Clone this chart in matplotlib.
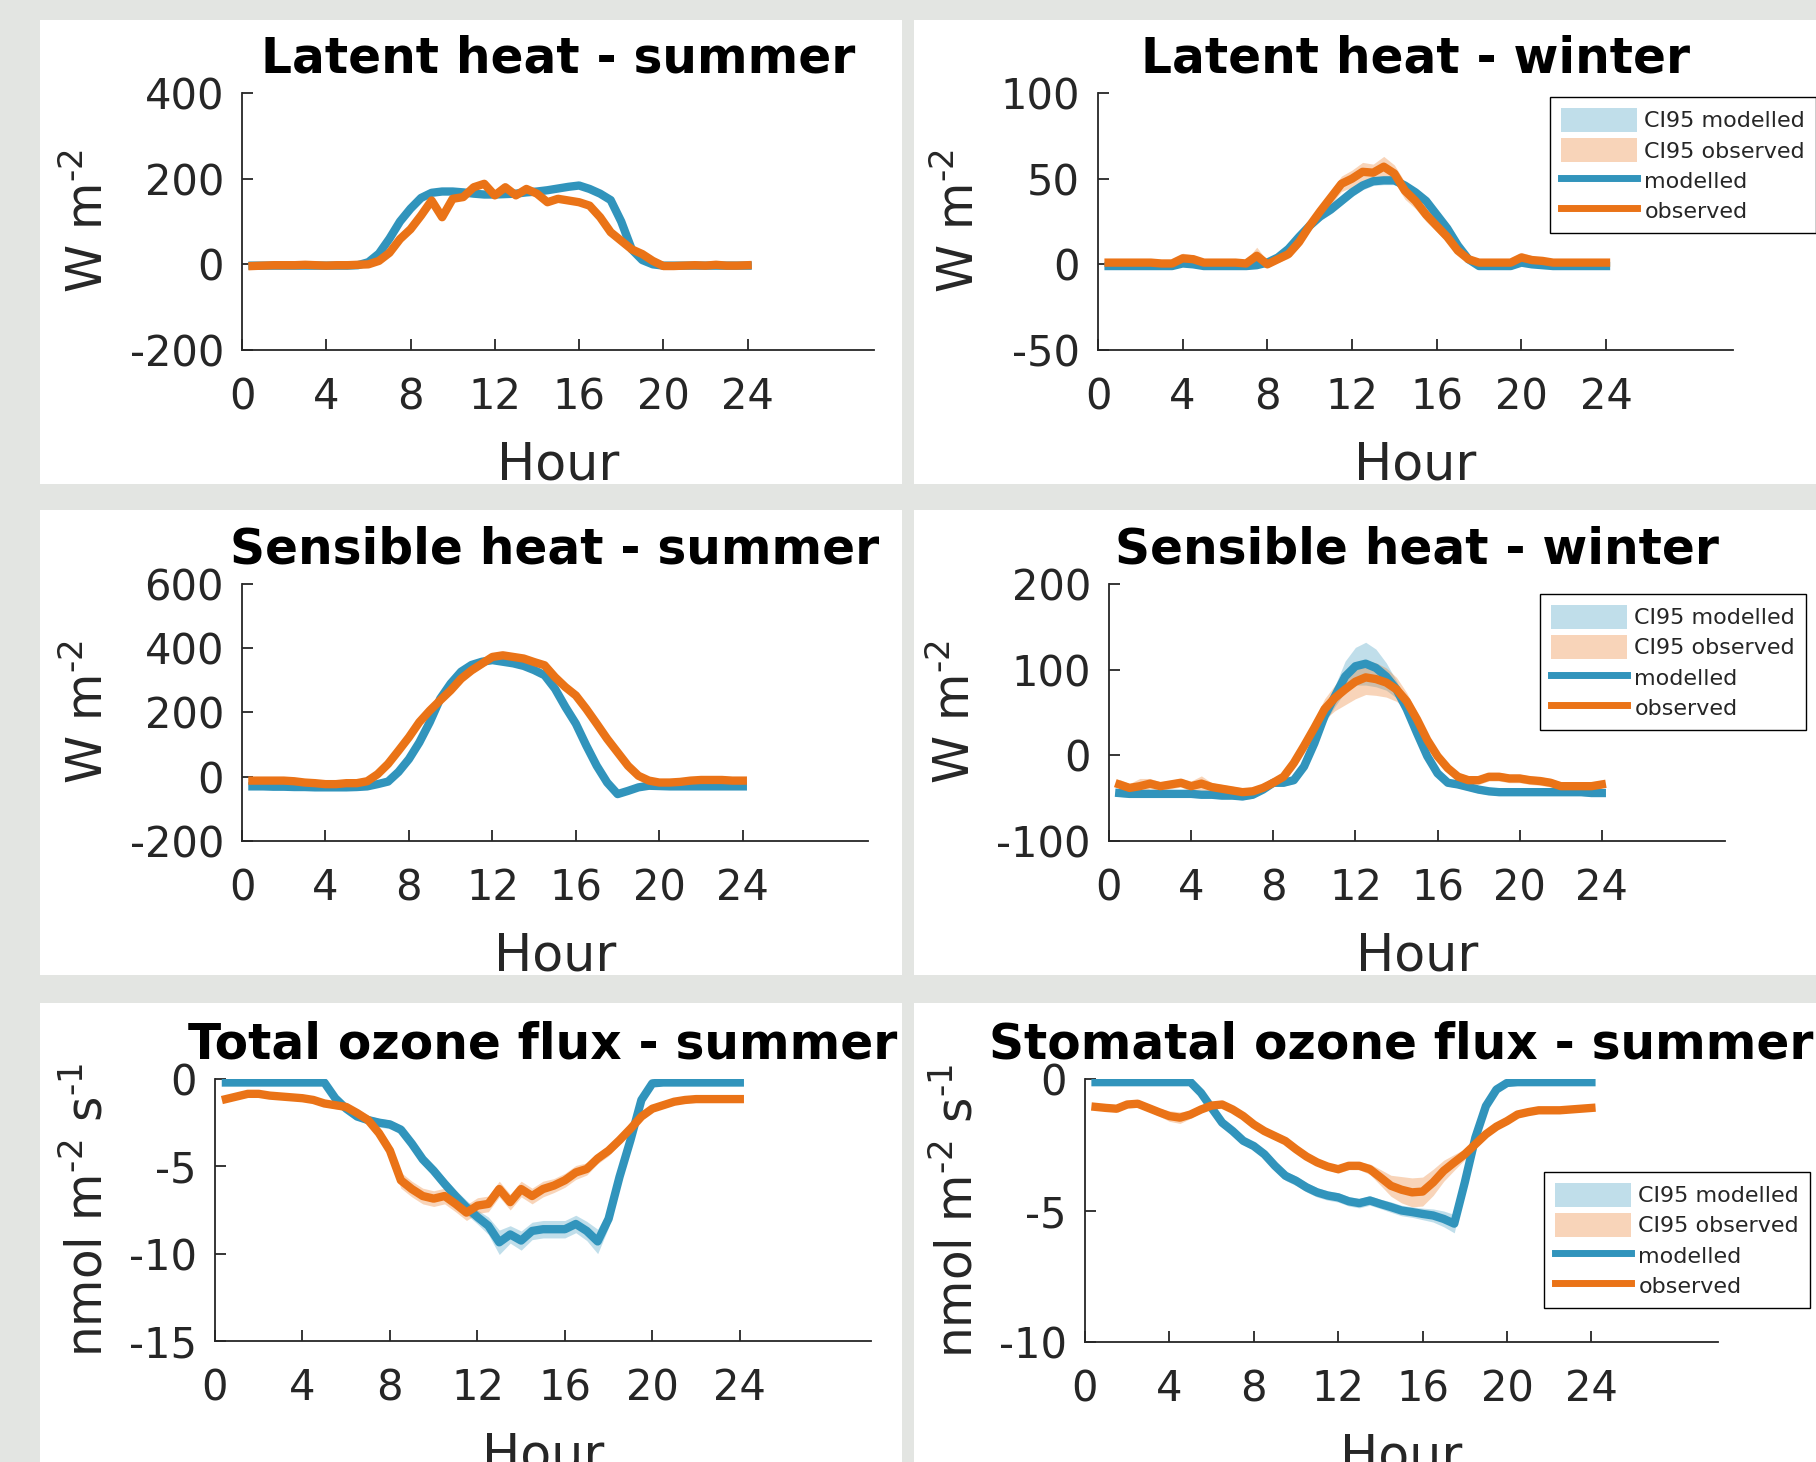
import numpy as np
import matplotlib
matplotlib.use("Agg")
import matplotlib.pyplot as plt
from matplotlib.patches import Rectangle, Patch
from matplotlib.lines import Line2D

plt.rcParams['font.family'] = ['DejaVu Sans']
plt.rcParams['axes.unicode_minus'] = False

hours = [0.5, 1.0, 1.5, 2.0, 2.5, 3.0, 3.5, 4.0, 4.5, 5.0, 5.5, 6.0,
         6.5, 7.0, 7.5, 8.0, 8.5, 9.0, 9.5, 10.0, 10.5, 11.0, 11.5, 12.0,
         12.5, 13.0, 13.5, 14.0, 14.5, 15.0, 15.5, 16.0, 16.5, 17.0, 17.5, 18.0,
         18.5, 19.0, 19.5, 20.0, 20.5, 21.0, 21.5, 22.0, 22.5, 23.0, 23.5, 24.0]
x_ticks = [0, 4, 8, 12, 16, 20, 24]

titles = ["Latent heat - summer", "Latent heat - winter",
          "Sensible heat - summer", "Sensible heat - winter",
          "Total ozone flux - summer", "Stomatal ozone flux - summer"]
legend_labels = ["CI95 modelled", "CI95 observed", "modelled", "observed"]

# ---- Latent heat summer ----
lh_sum_mod = [-3, -3, -3, -3, -3, -3, -3, -3, -3, -3, -2, 5,
              25, 60, 100, 130, 155, 167, 170, 170, 168, 165, 163, 163,
              164, 165, 168, 170, 173, 177, 181, 184, 176, 165, 150, 100,
              35, 10, 0, -3, -3, -3, -3, -3, -3, -3, -3, -3]
lh_sum_obs = [-4, -3, -2, -2, -2, -1, -2, -3, -2, -2, -1, 0,
              8, 27, 59, 82, 114, 149, 110, 153, 157, 180, 188, 161,
              180, 161, 176, 165, 145, 153, 149, 145, 137, 110, 75, 55,
              35, 24, 8, -4, -4, -3, -2, -3, -1, -3, -3, -2]
lh_sum_mod_ci = [3, 3, 3, 3, 3, 3, 3, 3, 3, 3, 3, 3,
                 3, 4, 4, 4, 4, 4, 4, 4, 4, 4, 4, 4,
                 4, 4, 4, 4, 5, 5, 5, 6, 6, 6, 6, 5,
                 4, 3, 3, 3, 3, 3, 3, 3, 3, 3, 3, 3]
lh_sum_obs_ci = [4, 4, 4, 4, 4, 4, 4, 4, 4, 4, 4, 4,
                 4, 4, 5, 5, 5, 5, 5, 6, 6, 6, 6, 6,
                 6, 6, 6, 6, 6, 6, 6, 6, 5, 5, 5, 5,
                 4, 4, 4, 4, 4, 4, 4, 4, 4, 4, 4, 4]

# ---- Latent heat winter ----
lh_win_mod = [-1, -1, -1, -1, -1, -1, -1, 0.5, 0, -1, -1, -1,
              -1, -1, -0.5, 1, 4, 9, 16, 22.5, 28, 32, 37, 42,
              46, 48.5, 49, 49, 46, 42, 37, 29, 21, 11, 3, -1,
              -1, -1, -1, 1, 0, -0.5, -1, -1, -1, -1, -1, -1]
lh_win_obs = [1, 1, 1, 1, 1, 0.5, 0.5, 3.5, 3, 1, 1, 1,
              1, 0.5, 5, 0, 3, 6, 13, 22.5, 31, 39, 47, 50,
              54, 53.5, 57, 53, 43, 37, 29, 22.5, 16, 8, 3, 1,
              1, 1, 1, 4, 2.5, 2, 1, 1, 1, 1, 1, 1]
lh_win_mod_ci = [1.5, 1.5, 1.5, 1.5, 1.5, 1.5, 1.5, 1.5, 1.5, 1.5, 1.5, 1.5,
                 1.5, 1.5, 1.5, 1.5, 2, 2, 2.5, 2.5, 2.5, 2.5, 2.5, 2.5,
                 2.5, 2.5, 2.5, 2.5, 2.5, 2.5, 2.5, 2.5, 2, 2, 1.5, 1.5,
                 1.5, 1.5, 1.5, 1.5, 1.5, 1.5, 1.5, 1.5, 1.5, 1.5, 1.5, 1.5]
lh_win_obs_ci = [2, 2, 2, 2, 2, 2, 2, 3, 2.5, 2, 2, 2,
                 2, 2, 5, 2, 2, 2.5, 3, 3, 3.5, 4, 4.5, 5,
                 5.5, 5, 6, 5, 5, 4.5, 4, 3.5, 3, 2.5, 2, 2,
                 2, 2, 2, 3, 2.5, 2, 2, 2, 2, 2, 2, 2]

# ---- Sensible heat summer ----
sh_sum_mod = [-30, -30, -31, -31, -32, -32, -33, -33, -33, -33, -32, -30,
              -23, -15, 15, 55, 107, 170, 243, 290, 327, 348, 358, 363,
              358, 353, 345, 332, 316, 274, 217, 165, 97, 34, -18, -54,
              -44, -33, -28, -29, -30, -30, -30, -30, -30, -30, -30, -30]
sh_sum_obs = [-12, -12, -12, -12, -14, -18, -20, -23, -23, -20, -20, -14,
              8, 40, 81, 123, 170, 206, 238, 269, 305, 331, 352, 373,
              378, 373, 368, 357, 347, 310, 279, 253, 211, 165, 118, 76,
              34, 3, -12, -18, -18, -16, -12, -10, -10, -10, -12, -12]
sh_sum_mod_ci = [5, 5, 5, 5, 5, 5, 5, 5, 5, 5, 5, 5,
                 6, 6, 6, 7, 7, 8, 8, 8, 8, 8, 8, 8,
                 8, 8, 8, 8, 8, 8, 8, 8, 8, 7, 7, 7,
                 6, 6, 5, 5, 5, 5, 5, 5, 5, 5, 5, 5]
sh_sum_obs_ci = [6, 6, 6, 6, 6, 6, 6, 6, 6, 6, 6, 6,
                 7, 7, 8, 8, 9, 9, 10, 10, 11, 11, 12, 12,
                 12, 12, 11, 11, 10, 10, 10, 9, 9, 8, 8, 7,
                 7, 6, 6, 6, 6, 6, 6, 6, 6, 6, 6, 6]

# ---- Sensible heat winter ----
sh_win_mod = [-44, -45, -45, -45, -45, -45, -45, -45, -46, -46, -47, -47,
              -48, -46, -40, -32, -32, -29, -13, 14, 46, 69, 92, 104,
              107, 102, 92, 77, 54, 26, -1, -21, -32, -34, -37, -40,
              -42, -43, -43, -43, -43, -43, -43, -43, -43, -43, -44, -44]
sh_win_obs = [-34, -38, -36, -33, -36, -34, -32, -36, -33, -37, -39, -41,
              -43, -42, -38, -32, -25, -9, 11, 32, 54, 67, 77, 86,
              91, 89, 85, 77, 63, 42, 18, -1, -15, -25, -29, -29,
              -25, -25, -27, -27, -29, -30, -32, -36, -36, -36, -36, -34]
sh_win_mod_ci = [4, 4, 4, 4, 4, 4, 4, 4, 4, 4, 4, 4,
                 4, 4, 4, 4, 4, 4, 5, 6, 9, 12, 18, 22,
                 25, 22, 16, 10, 7, 5, 5, 4, 4, 4, 4, 4,
                 4, 4, 4, 4, 4, 4, 4, 4, 4, 4, 4, 4]
sh_win_obs_ci = [6, 5, 9, 6, 5, 5, 5, 6, 9, 5, 5, 5,
                 5, 5, 5, 5, 6, 7, 8, 10, 12, 15, 18, 20,
                 20, 19, 17, 14, 10, 8, 6, 5, 5, 5, 5, 5,
                 5, 5, 5, 5, 5, 5, 5, 5, 5, 5, 5, 5]

# ---- Total ozone flux summer ----
oz_tot_mod = [-0.2, -0.2, -0.2, -0.2, -0.2, -0.2, -0.2, -0.2, -0.2, -0.2, -1.1, -1.7,
              -2.15, -2.35, -2.5, -2.6, -2.9, -3.7, -4.6, -5.25, -6.0, -6.7, -7.35, -7.9,
              -8.4, -9.35, -8.9, -9.25, -8.7, -8.6, -8.6, -8.6, -8.3, -8.7, -9.3, -8.0,
              -5.6, -3.5, -1.2, -0.25, -0.2, -0.2, -0.2, -0.2, -0.2, -0.2, -0.2, -0.2]
oz_tot_obs = [-1.15, -1.0, -0.85, -0.85, -0.95, -1.0, -1.05, -1.1, -1.2, -1.4, -1.5, -1.6,
              -1.95, -2.35, -3.1, -4.1, -5.8, -6.3, -6.7, -6.85, -6.7, -7.15, -7.65, -7.25,
              -7.15, -6.3, -7.05, -6.3, -6.7, -6.3, -6.1, -5.8, -5.35, -5.15, -4.55, -4.1,
              -3.5, -2.85, -2.15, -1.7, -1.5, -1.3, -1.2, -1.15, -1.15, -1.15, -1.15, -1.15]
oz_tot_mod_ci = [0.15, 0.15, 0.15, 0.15, 0.15, 0.15, 0.15, 0.15, 0.15, 0.15, 0.15, 0.2,
                 0.2, 0.25, 0.25, 0.25, 0.25, 0.3, 0.3, 0.3, 0.35, 0.35, 0.4, 0.4,
                 0.5, 0.7, 0.5, 0.55, 0.5, 0.5, 0.5, 0.5, 0.5, 0.55, 0.7, 0.5,
                 0.35, 0.25, 0.2, 0.15, 0.15, 0.15, 0.15, 0.15, 0.15, 0.15, 0.15, 0.15]
oz_tot_obs_ci = [0.15, 0.15, 0.15, 0.15, 0.15, 0.15, 0.15, 0.15, 0.15, 0.15, 0.2, 0.2,
                 0.25, 0.3, 0.35, 0.4, 0.45, 0.45, 0.45, 0.45, 0.45, 0.45, 0.45, 0.45,
                 0.45, 0.45, 0.45, 0.45, 0.45, 0.45, 0.4, 0.4, 0.4, 0.35, 0.3, 0.3,
                 0.25, 0.2, 0.2, 0.15, 0.15, 0.15, 0.15, 0.15, 0.15, 0.15, 0.15, 0.15]

# ---- Stomatal ozone flux summer ----
oz_sto_mod = [-0.12, -0.12, -0.12, -0.12, -0.12, -0.12, -0.12, -0.12, -0.12, -0.12, -0.53, -1.1,
              -1.66, -1.98, -2.35, -2.55, -2.86, -3.3, -3.68, -3.87, -4.12, -4.31, -4.43, -4.5,
              -4.65, -4.72, -4.62, -4.75, -4.87, -5.0, -5.06, -5.13, -5.19, -5.32, -5.5, -3.93,
              -2.23, -1.03, -0.4, -0.15, -0.12, -0.12, -0.12, -0.12, -0.12, -0.12, -0.12, -0.12]
oz_sto_obs = [-1.06, -1.1, -1.13, -0.97, -0.94, -1.1, -1.26, -1.41, -1.47, -1.35, -1.16, -1.01,
              -0.97, -1.16, -1.41, -1.73, -1.98, -2.17, -2.36, -2.67, -2.95, -3.17, -3.33, -3.43,
              -3.3, -3.3, -3.43, -3.74, -4.06, -4.21, -4.31, -4.28, -3.93, -3.49, -3.17, -2.86,
              -2.48, -2.1, -1.81, -1.6, -1.35, -1.26, -1.19, -1.19, -1.19, -1.16, -1.13, -1.1]
oz_sto_mod_ci = [0.08, 0.08, 0.08, 0.08, 0.08, 0.08, 0.08, 0.08, 0.08, 0.08, 0.1, 0.1,
                 0.12, 0.12, 0.15, 0.15, 0.15, 0.15, 0.18, 0.18, 0.18, 0.18, 0.18, 0.18,
                 0.18, 0.18, 0.18, 0.18, 0.2, 0.2, 0.2, 0.22, 0.25, 0.3, 0.35, 0.2,
                 0.12, 0.1, 0.08, 0.08, 0.08, 0.08, 0.08, 0.08, 0.08, 0.08, 0.08, 0.08]
oz_sto_obs_ci = [0.1, 0.1, 0.1, 0.1, 0.1, 0.12, 0.15, 0.2, 0.22, 0.15, 0.12, 0.1,
                 0.1, 0.1, 0.1, 0.1, 0.1, 0.1, 0.12, 0.12, 0.12, 0.12, 0.12, 0.15,
                 0.15, 0.15, 0.2, 0.3, 0.4, 0.5, 0.55, 0.55, 0.5, 0.4, 0.3, 0.2,
                 0.15, 0.12, 0.1, 0.1, 0.1, 0.1, 0.1, 0.1, 0.1, 0.1, 0.1, 0.1]

panels = [
    (lh_sum_mod, lh_sum_mod_ci, lh_sum_obs, lh_sum_obs_ci, (-200, 400), [-200, 0, 200, 400]),
    (lh_win_mod, lh_win_mod_ci, lh_win_obs, lh_win_obs_ci, (-50, 100), [-50, 0, 50, 100]),
    (sh_sum_mod, sh_sum_mod_ci, sh_sum_obs, sh_sum_obs_ci, (-200, 600), [-200, 0, 200, 400, 600]),
    (sh_win_mod, sh_win_mod_ci, sh_win_obs, sh_win_obs_ci, (-100, 200), [-100, 0, 100, 200]),
    (oz_tot_mod, oz_tot_mod_ci, oz_tot_obs, oz_tot_obs_ci, (-15, 0), [-15, -10, -5, 0]),
    (oz_sto_mod, oz_sto_mod_ci, oz_sto_obs, oz_sto_obs_ci, (-10, 0), [-10, -5, 0]),
]
HY = '\u2010'
ylabels = ["W m$^{\\mathregular{" + HY + "2}}$"] * 4 + \
          ["nmol m$^{\\mathregular{" + HY + "2}}$ s$^{\\mathregular{" + HY + "1}}$"] * 2

# ---- layout (pixels) ----
W, H = 1816, 1462
fig = plt.figure(figsize=(W / 100, H / 100), dpi=100, facecolor='#e3e5e2')

white_boxes = [(40, 20, 902, 484), (914, 20, 1816, 484),
               (40, 510, 902, 975), (914, 510, 1816, 975),
               (40, 1003, 902, 1462), (914, 1003, 1816, 1462)]
for (x0, y0, x1, y1) in white_boxes:
    fig.patches.append(Rectangle((x0 / W, 1 - y1 / H), (x1 - x0) / W, (y1 - y0) / H,
                                 transform=fig.transFigure, facecolor='white',
                                 edgecolor='none', zorder=-10))

axes_px = [(242, 93, 874, 350), (1098, 93, 1733, 350),
           (242, 584, 868, 841), (1109, 584, 1725, 841),
           (215, 1079, 871, 1341), (1085, 1079, 1718, 1342)]
legend_px = [None, (1550, 97), None, (1540, 594), None, (1544, 1172)]

c_mod = '#3194bc'
c_obs = '#ea7317'
dark = '#262626'

for i, (mod, mod_ci, obs, obs_ci, ylim, yticks) in enumerate(panels):
    l, t, r, b = axes_px[i]
    ax = fig.add_axes([l / W, 1 - b / H, (r - l) / W, (b - t) / H])
    ax.set_zorder(5)
    ax.set_facecolor('none')
    m = np.array(mod, float); mc = np.array(mod_ci, float)
    o = np.array(obs, float); oc = np.array(obs_ci, float)
    ax.fill_between(hours, m - mc, m + mc, color=c_mod, alpha=0.3, lw=0)
    ax.fill_between(hours, o - oc, o + oc, color=c_obs, alpha=0.3, lw=0)
    ax.plot(hours, m, color=c_mod, lw=6, solid_joinstyle='round')
    ax.plot(hours, o, color=c_obs, lw=6, solid_joinstyle='round')
    ax.set_xlim(0, 30)
    ax.set_ylim(*ylim)
    ax.set_xticks(x_ticks)
    ax.set_yticks(yticks)
    for s in ['top', 'right']:
        ax.spines[s].set_visible(False)
    for s in ['left', 'bottom']:
        ax.spines[s].set_color(dark)
        ax.spines[s].set_linewidth(1.3)
    ax.tick_params(direction='in', length=8, width=1.3, colors=dark, labelsize=30)
    ax.tick_params(axis='x', pad=19)
    ax.tick_params(axis='y', pad=13)
    ax.set_title(titles[i], fontsize=35, fontweight='bold', pad=15, color='black')
    ax.set_xlabel("Hour", fontsize=36.5, color=dark, labelpad=16)
    ax.set_ylabel(ylabels[i], fontsize=35, color=dark, labelpad=12)
    if legend_px[i] is not None:
        lx, ly = legend_px[i]
        handles = [Patch(facecolor=c_mod, alpha=0.3, edgecolor='none'),
                   Patch(facecolor=c_obs, alpha=0.3, edgecolor='none'),
                   Line2D([], [], color=c_mod, lw=5),
                   Line2D([], [], color=c_obs, lw=5)]
        leg = ax.legend(handles, legend_labels, loc='upper left',
                        bbox_to_anchor=(lx / W, 1 - ly / H), bbox_transform=fig.transFigure,
                        fontsize=16, frameon=True, fancybox=False, borderpad=0.5,
                        handlelength=3.4, handleheight=1.25, handletextpad=0.35,
                        labelspacing=0.3, borderaxespad=0)
        fr = leg.get_frame()
        fr.set_edgecolor('black'); fr.set_linewidth(1.0); fr.set_alpha(1)
        for txt in leg.get_texts():
            txt.set_color(dark)

fig.savefig("out.png", dpi=100, facecolor=fig.get_facecolor())
